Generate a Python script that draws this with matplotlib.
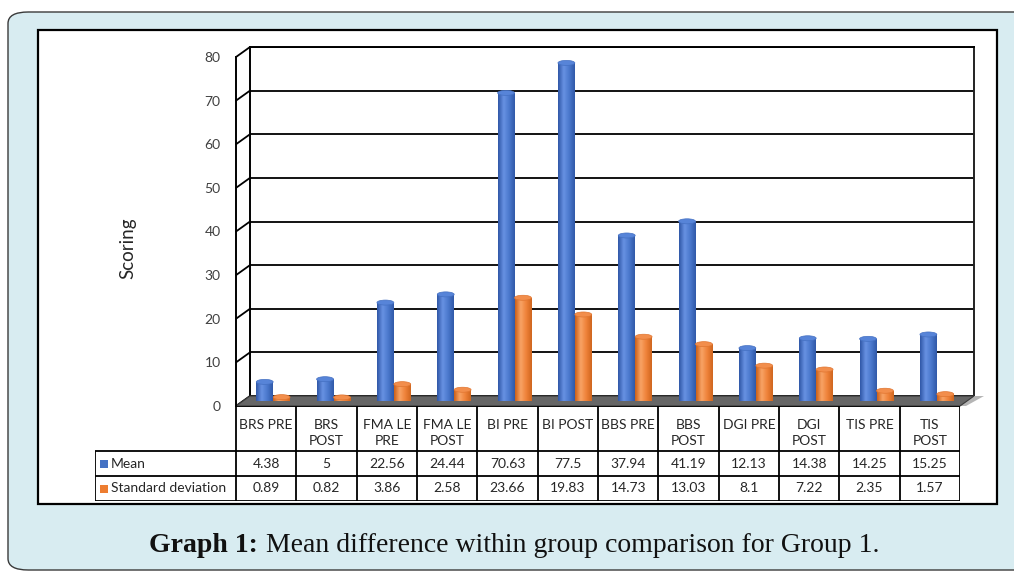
import numpy as np
import matplotlib
matplotlib.use("Agg")
import matplotlib.pyplot as plt
from matplotlib.patches import Rectangle, Ellipse, Polygon, FancyBboxPatch, ConnectionPatch
from matplotlib.colors import LinearSegmentedColormap

# data
categories = ["BRS PRE", "BRS\nPOST", "FMA LE\nPRE", "FMA LE\nPOST", "BI PRE", "BI POST",
              "BBS PRE", "BBS\nPOST", "DGI PRE", "DGI\nPOST", "TIS PRE", "TIS\nPOST"]
mean_vals = [4.38, 5, 22.56, 24.44, 70.63, 77.5, 37.94, 41.19, 12.13, 14.38, 14.25, 15.25]
sd_vals = [0.89, 0.82, 3.86, 2.58, 23.66, 19.83, 14.73, 13.03, 8.1, 7.22, 2.35, 1.57]
series_names = ["Mean", "Standard deviation"]
y_ticks = [0, 10, 20, 30, 40, 50, 60, 70, 80]

W, H = 1014, 572
BLUE = "#4472c4"
ORANGE = "#ed7d31"
FONT = "Lato"

fig = plt.figure(figsize=(W / 100, H / 100), dpi=100)
fig.patch.set_facecolor("white")


def box(x, y, w, h):
    # pixel box (top-left origin) -> figure fraction rect
    return [x / W, 1 - (y + h) / H, w / W, h / H]


# page decoration: light blue rounded panel + white chart frame
panel = FancyBboxPatch((8 / W, 1 - 570 / H), 1030 / W, 558 / H,
                       boxstyle="round,pad=0,rounding_size=0.02", transform=fig.transFigure,
                       facecolor="#d8ecf1", edgecolor="#3a3a3a", lw=1.0, zorder=-3)
fig.add_artist(panel)
frame = Rectangle((38 / W, 1 - 504 / H), 959 / W, 474 / H, transform=fig.transFigure,
                  facecolor="white", edgecolor="black", lw=1.6, zorder=-2)
fig.add_artist(frame)

n = len(categories)
xs = np.arange(n)
plot_w, plot_h = 724, 349

# three planes of the fake 3D box: back wall, bars at mid depth, front axis
ax_b = fig.add_axes(box(250, 47, plot_w, plot_h))
ax_m = fig.add_axes(box(243, 52, plot_w, plot_h))
ax_f = fig.add_axes(box(236, 57, plot_w, plot_h))
for a, z in ((ax_b, 0), (ax_m, 2), (ax_f, 3)):
    a.set_xlim(-0.5, n - 0.5)
    a.set_ylim(0, 80)
    a.set_facecolor("none")
    a.set_zorder(z)
    a.set_xticks([])

ax_b.set_yticks(y_ticks)
ax_b.yaxis.grid(True, color="black", lw=1.3)
ax_b.tick_params(left=False, labelleft=False)
ax_b.spines["bottom"].set_visible(False)
for s in ("top", "left", "right"):
    ax_b.spines[s].set_linewidth(1.4)
ax_b.spines["right"].set_color("#222222")

ax_m.axis("off")

ax_f.set_yticks(y_ticks)
ax_f.tick_params(length=0, pad=11, labelsize=10, labelcolor="#404040")
for lab in ax_f.get_yticklabels():
    lab.set_fontfamily(FONT)
for s in ("top", "right", "bottom"):
    ax_f.spines[s].set_visible(False)
ax_f.spines["left"].set_linewidth(1.4)

# side wall lines joining front and back gridlines
for v in y_ticks:
    con = ConnectionPatch(xyA=(-0.5, v), coordsA=ax_f.transData,
                          xyB=(-0.5, v), coordsB=ax_b.transData,
                          color="black", lw=1.3, zorder=1)
    fig.add_artist(con)

# floor
corners = [ax_f.transData.transform((-0.5, 0)), ax_f.transData.transform((n - 0.5, 0)),
           ax_b.transData.transform((n - 0.5, 0)), ax_b.transData.transform((-0.5, 0))]
corners = fig.transFigure.inverted().transform(np.array(corners))
shadow = Polygon(corners + np.array([[0, 0], [6 / W, 0], [10 / W, 0], [0, 0]]),
                 closed=True, transform=fig.transFigure, facecolor="#b5b5b5",
                 edgecolor="none", zorder=1)
fig.add_artist(shadow)
floor = Polygon(corners, closed=True, transform=fig.transFigure, facecolor="#666666",
                edgecolor="#3a3a3a", lw=0.8, zorder=1.2)
fig.add_artist(floor)

# cylinder bars
cmaps = [LinearSegmentedColormap.from_list("b", ["#2e56a6", "#6892e3", "#4a78cc", "#3059a8"]),
         LinearSegmentedColormap.from_list("o", ["#cc5f17", "#f8a466", "#ef8239", "#cf661f"])]
cap_cols = [("#5784d8", "#4470c2"), ("#f28e4c", "#e07530")]
bw = 0.28
grad = np.linspace(0, 1, 64)[np.newaxis, :]
for k, (vals, col) in enumerate(((mean_vals, BLUE), (sd_vals, ORANGE))):
    pos = xs + (k - 0.5) * bw
    bars = ax_m.bar(pos, vals, bw, color=col, zorder=2, linewidth=0)
    for rect, x0, h in zip(bars, pos, vals):
        im = ax_m.imshow(grad, extent=(x0 - bw / 2, x0 + bw / 2, 0, h), cmap=cmaps[k],
                         aspect="auto", interpolation="bicubic", zorder=2.5)
        im.set_clip_path(rect)
        ax_m.add_patch(Ellipse((x0, h), bw, 1.15, facecolor=cap_cols[k][0],
                               edgecolor=cap_cols[k][1], lw=0.5, zorder=3))
ax_m.set_xlim(-0.5, n - 0.5)
ax_m.set_ylim(0, 80)
ax_m.set_aspect("auto")

fig.text(128 / W, 1 - 248 / H, "Scoring", rotation=90, ha="center", va="center",
         fontsize=13.5, family=FONT, color="#262626")

# data table under the plot
leg_w = (236 - 95) / (plot_w / n)
tx = fig.add_axes(box(95, 406, 960 - 95, 95))
tx.set_zorder(4)
tx.set_xlim(-0.5 - leg_w, n - 0.5)
tx.set_ylim(0, 95)
tx.axis("off")
left = -0.5 - leg_w
lw_t = 1.3
tx.hlines([0, 25, 50], left, n - 0.5, color="black", lw=lw_t)
tx.hlines(95, -0.5, n - 0.5, color="black", lw=lw_t)
tx.vlines([left], 0, 50, color="black", lw=lw_t)
tx.vlines(np.arange(n + 1) - 0.5, 0, 95, color="black", lw=lw_t)

for i, lab in enumerate(categories):
    tx.text(i, 82, lab, ha="center", va="top", fontsize=10, family=FONT,
            color="#262626", linespacing=1.4)
for row_y, vals in ((37.5, mean_vals), (12.5, sd_vals)):
    for i, v in enumerate(vals):
        tx.text(i, row_y, "{:g}".format(v), ha="center", va="center", fontsize=10,
                family=FONT, color="#262626")

sq_w = 8 / (plot_w / n)
for row_y, name, col in ((37.5, series_names[0], BLUE), (12.5, series_names[1], ORANGE)):
    tx.add_patch(Rectangle((left + 5 / (plot_w / n), row_y - 4), sq_w, 8,
                           facecolor=col, edgecolor="none"))
    tx.text(left + 16 / (plot_w / n), row_y, name, ha="left", va="center", fontsize=10,
            family=FONT, color="#262626")

# caption
fig.text(258 / W, 1 - 552 / H, "Graph 1:", ha="right", va="baseline", fontsize=20,
         family="Liberation Serif", weight="bold", color="#111111")
fig.text(266 / W, 1 - 552 / H, "Mean difference within group comparison for Group 1.",
         ha="left", va="baseline", fontsize=20, family="Liberation Serif", color="#111111")

fig.savefig("out.png", dpi=100)
